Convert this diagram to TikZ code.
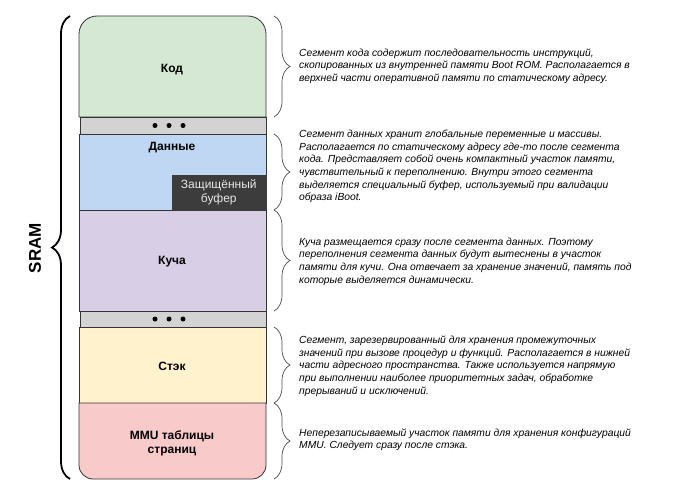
\documentclass[tikz,border=0pt]{standalone}
\usepackage{fontspec}
\setmainfont{Liberation Sans}
\usetikzlibrary{decorations.pathreplacing}
\definecolor{cgreen}{HTML}{D5E8D4}
\definecolor{cblue}{HTML}{C0D7F3}
\definecolor{cpurple}{HTML}{D8CEE6}
\definecolor{cyellow}{HTML}{FFF2CC}
\definecolor{cred}{HTML}{F8CACA}
\definecolor{cgray}{HTML}{D3D3D3}
\definecolor{cdark}{HTML}{3C3C3C}
\definecolor{cline}{HTML}{333333}
\definecolor{cbuftext}{HTML}{E6E6E6}
\begin{document}
\begin{tikzpicture}[x=1pt,y=1pt,
 seg/.style={draw=cline, line width=0.8pt},
 lbl/.style={font=\fontsize{12}{14}\selectfont\bfseries, align=center, inner sep=0pt},
 desc/.style={font=\fontsize{10.3}{12.7}\selectfont\itshape, align=left, anchor=west, inner sep=0pt},
 rbrace/.style={decorate, decoration={brace, amplitude=16pt}, draw=black!70, line width=0.7pt},
 lbrace/.style={decorate, decoration={brace, amplitude=18pt}, draw=black, line width=1.8pt},
 dotc/.style={circle, fill=black, inner sep=0pt, minimum size=5pt}]
\useasboundingbox[fill=white] (0,0) rectangle (676,-495);
% segments
\path[seg, fill=cgreen] (79,-117) -- (79,-34) arc[start angle=180,end angle=90,radius=18] -- (248,-16) arc[start angle=90,end angle=0,radius=18] -- (266,-117) -- cycle;
\path[seg, fill=cgray] (80,-117) rectangle (266,-134);
\path[seg, fill=cblue] (79,-134) rectangle (266,-210);
\path[seg, fill=cpurple] (79,-210) rectangle (266,-311);
\path[seg, fill=cgray] (80,-311) rectangle (266,-327);
\path[seg, fill=cyellow] (79,-327) rectangle (266,-403);
\path[seg, fill=cred] (79,-403) -- (79,-465) arc[start angle=180,end angle=270,radius=14] -- (252,-479) arc[start angle=270,end angle=360,radius=14] -- (266,-403) -- cycle;
% protected buffer
\node[fill=cdark, draw=cdark, minimum width=94pt, minimum height=35pt, inner sep=0pt, anchor=south east,
      text=cbuftext, align=center, font=\fontsize{12}{14}\selectfont] (buf) at (266,-210) {Защищённый\\буфер};
% labels
\node[lbl] (kod) at (172,-70) {Код};
\node[lbl] (data) at (172,-148) {Данные};
\node[lbl] (heap) at (172,-262) {Куча};
\node[lbl] (stack) at (172,-366) {Стэк};
\node[lbl] (mmu) at (172,-443) {MMU таблицы\\страниц};
% dots
\node[dotc] (d1) at (155,-125.5) {};
\node[dotc] (d2) at (169,-125.5) {};
\node[dotc] (d3) at (183,-125.5) {};
\node[dotc] (d4) at (155,-319) {};
\node[dotc] (d5) at (169,-319) {};
\node[dotc] (d6) at (183,-319) {};
% big brace + SRAM
\draw[lbrace] (70,-479) -- (70,-16);
\node[rotate=90, font=\fontsize{17}{20}\selectfont\bfseries] (sram) at (35,-248) {SRAM};
% right braces
\draw[rbrace] (274,-16) -- (274,-117);
\draw[rbrace] (274,-134) -- (274,-210);
\draw[rbrace] (274,-210) -- (274,-311);
\draw[rbrace] (274,-327) -- (274,-403);
\draw[rbrace] (274,-403) -- (274,-479);
% descriptions
\node[desc] (t1) at (299,-66) {Сегмент кода содержит последовательность инструкций,\\скопированных из внутренней памяти Boot ROM. Располагается в\\верхней части оперативной памяти по статическому адресу.};
\node[desc] (t2) at (299,-166.5) {Сегмент данных хранит глобальные переменные и массивы.\\Располагается по статическому адресу где-то после сегмента\\кода. Представляет собой очень компактный участок памяти,\\чувствительный к переполнению. Внутри этого сегмента\\выделяется специальный буфер, используемый при валидации\\образа iBoot.};
\node[desc] (t3) at (299,-261.5) {Куча размещается сразу после сегмента данных. Поэтому\\переполнения сегмента данных будут вытеснены в участок\\памяти для кучи. Она отвечает за хранение значений, память под\\которые выделяется динамически.};
\node[desc] (t4) at (299,-366) {Сегмент, зарезервированный для хранения промежуточных\\значений при вызове процедур и функций. Располагается в нижней\\части адресного пространства. Также используется напрямую\\при выполнении наиболее приоритетных задач, обработке\\прерываний и исключений.};
\node[desc] (t5) at (299,-439.7) {Неперезаписываемый участок памяти для хранения конфигураций\\MMU. Следует сразу после стэка.};
\end{tikzpicture}
\end{document}
